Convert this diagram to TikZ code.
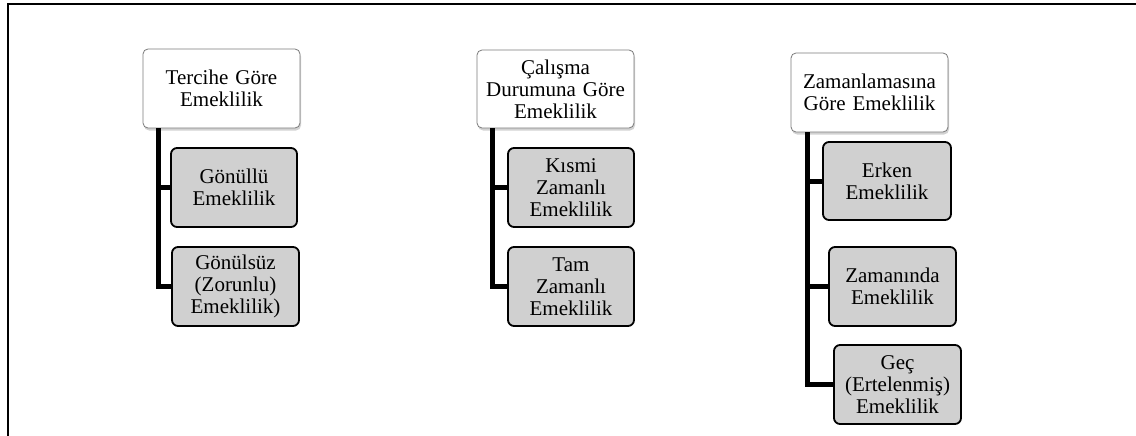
\documentclass[tikz,border=0pt]{standalone}
\usepackage{fontspec}
\setmainfont{Liberation Serif}
\usetikzlibrary{shadows,calc}
\definecolor{childgray}{HTML}{D0D0D0}
\definecolor{rootborder}{HTML}{7A7A7A}
\begin{document}
\begin{tikzpicture}[x=1pt,y=-1pt,
  every node/.style={font=\fontsize{21}{22}\selectfont, align=center, inner sep=0pt},
  rootbox/.style={draw=rootborder, line width=0.8pt, fill=white, rounded corners=5pt,
    minimum width=157pt, minimum height=79pt, text width=150pt,
    drop shadow={shadow xshift=1pt, shadow yshift=-2.5pt, opacity=0.35, fill=gray}},
  childbox/.style={draw=black, line width=1.8pt, fill=childgray, rounded corners=6pt,
    minimum width=127pt, minimum height=79pt, text width=120pt},
  conn/.style={line width=5pt, line join=miter}]
\useasboundingbox (0,0) rectangle (1136,436);
\fill[white] (0,0) rectangle (1136,436);
\draw[line width=2pt] (8,436) -- (8,4) -- (1136,4);

% column 1
\node[rootbox] (r1) at (221.5,88.5) {Tercihe Göre\\Emeklilik};
\coordinate (r1b) at ($(r1.south west)+(16,0)$);
\node[childbox, minimum width=126pt] (c1a) at (234,187.5) {Gönüllü\\Emeklilik};
\node[childbox] (c1b) at (235.5,286.5) {Gönülsüz\\(Zorunlu)\\Emeklilik)};

% column 2
\node[rootbox, minimum height=78pt] (r2) at (555.5,89) {Çalışma\\Durumuna Göre\\Emeklilik};
\coordinate (r2b) at ($(r2.south west)+(16,0)$);
\node[childbox, minimum width=126pt] (c2a) at (571,187.5) {Kısmi\\Zamanlı\\Emeklilik};
\node[childbox, minimum width=126pt] (c2b) at (571,286.5) {Tam\\Zamanlı\\Emeklilik};

% column 3
\node[rootbox] (r3) at (869.5,92.5) {Zamanlamasına\\Göre Emeklilik};
\coordinate (r3b) at ($(r3.south west)+(17,0)$);
\node[childbox, minimum width=128pt, minimum height=78pt] (c3a) at (887,181) {Erken\\Emeklilik};
\node[childbox] (c3b) at (892.5,286.5) {Zamanında\\Emeklilik};
\node[childbox] (c3c) at (897.5,384.5) {Geç\\(Ertelenmiş)\\Emeklilik};

% connectors
\draw[conn] (r1b) |- (c1b.west);
\draw[conn] (r1b) |- (c1a.west);
\draw[conn] (r2b) |- (c2b.west);
\draw[conn] (r2b) |- (c2a.west);
\draw[conn] (r3b) |- (c3c.west);
\draw[conn] (r3b) |- (c3b.west);
\draw[conn] (r3b) |- (c3a.west);
\end{tikzpicture}
\end{document}
